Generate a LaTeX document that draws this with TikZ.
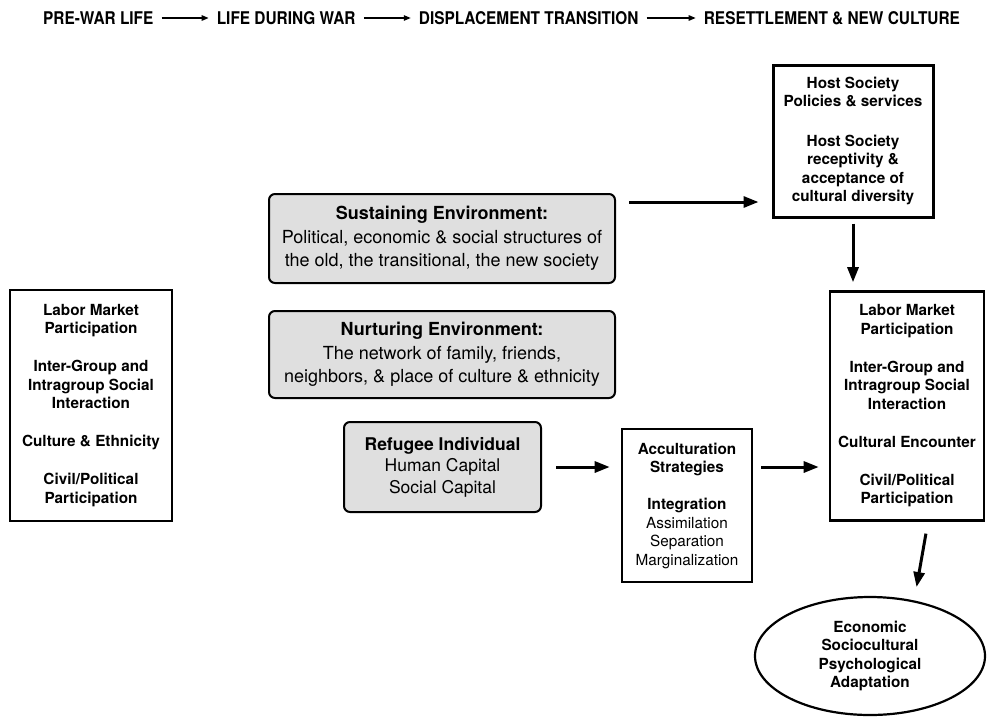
\documentclass[tikz,border=0pt]{standalone}
\usepackage{fontspec}
\setmainfont{TeX Gyre Heros}
\newfontfamily\headfont[FakeStretch=0.88]{TeX Gyre Heros}
\usetikzlibrary{arrows.meta,positioning,shapes.geometric}
\tikzset{
	envbox/.style={draw,line width=2pt,rounded corners=6pt,fill=gray!25,align=center,
		font=\fontsize{18}{23.5}\selectfont},
	whitebox/.style={draw,line width=2.6pt,fill=white,align=center,
		font=\fontsize{15.3}{18.5}\selectfont\bfseries},
	headtxt/.style={inner sep=0pt,font=\headfont\fontsize{17.5}{18}\selectfont\bfseries},
	arr/.style={line width=3pt,-{Triangle[length=15pt,width=11pt]}},
	headarr/.style={line width=1.3pt,-{Triangle[length=7pt,width=5.5pt]},shorten <=8pt,shorten >=8pt}
}
\begin{document}
\begin{tikzpicture}[x=1pt,y=-1pt]
\useasboundingbox (0,0) rectangle (987,726);
\node[headtxt,anchor=west] (h1) at (43,18) {PRE-WAR LIFE};
\node[headtxt,right=63pt of h1] (h2) {LIFE DURING WAR};
\node[headtxt,right=63pt of h2] (h3) {DISPLACEMENT TRANSITION};
\node[headtxt,right=65pt of h3] (h4) {RESETTLEMENT \& NEW CULTURE};
\foreach \a/\b in {h1/h2,h2/h3,h3/h4}
{
	\draw[headarr] (\a) -- (\b);
}
\node[envbox,minimum width=346pt,minimum height=89pt] (sust) at (442,238.5)
	{\textbf{Sustaining Environment:}\\Political, economic \& social structures of\\the old, the transitional, the new society};
\node[envbox,minimum width=346pt,minimum height=87pt] (nurt) at (442,354.5)
	{\textbf{Nurturing Environment:}\\The network of family, friends,\\neighbors, \& place of culture \& ethnicity};
\node[envbox,minimum width=197pt,minimum height=90pt,font=\fontsize{17.5}{21.5}\selectfont] (refu) at (442.5,467)
	{\textbf{Refugee Individual}\\Human Capital\\Social Capital};
\node[whitebox,line width=3pt,minimum width=160pt,minimum height=152pt] (host) at (853,141)
	{Host Society\\Policies \& services\\[21pt]Host Society\\receptivity \&\\acceptance of\\cultural diversity};
\node[whitebox,minimum width=162pt,minimum height=231pt] (before) at (91,405.5)
	{Labor Market\\Participation\\[19.5pt]Inter-Group and\\Intragroup Social\\Interaction\\[19.5pt]Culture \& Ethnicity\\[19.5pt]Civil/Political\\Participation};
\node[whitebox,minimum width=154pt,minimum height=229pt] (after) at (907,406)
	{Labor Market\\Participation\\[19.5pt]Inter-Group and\\Intragroup Social\\Interaction\\[19.5pt]Cultural Encounter\\[19.5pt]Civil/Political\\Participation};
\node[whitebox,minimum width=130pt,minimum height=153pt] (accult) at (687,505.5)
	{Acculturation\\Strategies\\[18.5pt]Integration\\{\mdseries Assimilation}\\{\mdseries Separation}\\{\mdseries Marginalization}};
\node[whitebox,ellipse,line width=2.2pt,minimum width=230pt,minimum height=118pt] (adapt) at (870,656)
	{Economic\\Sociocultural\\Psychological\\Adaptation};
\draw[arr,shorten <=13pt,shorten >=13pt] ([yshift=-9pt]sust.north east) -- ([yshift=-9pt]sust.north east -| host.west);
\draw[arr,shorten <=5pt,shorten >=8pt] (host.south) -- (host.south |- after.north);
\draw[arr,shorten <=14pt,shorten >=11pt] (refu.east) -- (refu.east -| accult.west);
\draw[arr,shorten <=8pt,shorten >=10pt] (accult.east |- refu.east) -- (refu.east -| after.west);
\draw[arr,shorten <=12pt,shorten >=9pt] ([xshift=21pt]after.south) -- ([xshift=45pt]adapt.north);
\end{tikzpicture}
\end{document}
